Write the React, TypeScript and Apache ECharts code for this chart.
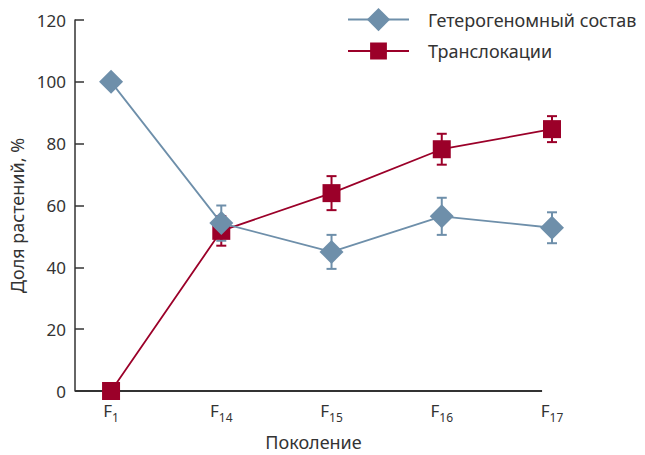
import React, { useEffect, useRef } from 'react';
import * as echarts from 'echarts';

const generations = ['1', '14', '15', '16', '17']; // subscripts of F
const heteroName = 'Гетерогеномный состав';
const translocName = 'Транслокации';
const heteroValues = [100, 54.3, 45, 56.5, 52.8];
const heteroErrors = [0, 5.7, 5.5, 6, 5];
const translocValues = [0, 51.8, 64, 78.2, 84.7];
const translocErrors = [0, 4.8, 5.5, 5, 4.2];
const yMin = 0;
const yMax = 120;
const yStep = 20;

const BLUE = '#6e8faa';
const RED = '#9b0029';
const TEXT = '#333333';
const FONT = 'Noto Sans';

function errorSeries(values: number[], errors: number[], color: string) {
  const data = values
    .map((v, i) => [i, v - errors[i], v + errors[i], errors[i]])
    .filter((d) => d[3] > 0);
  return {
    type: 'custom',
    z: 2,
    silent: true,
    encode: { x: 0, y: [1, 2] },
    data,
    renderItem: (params: any, api: any) => {
      const x = api.value(0);
      const top = api.coord([x, api.value(2)]);
      const bot = api.coord([x, api.value(1)]);
      const hw = 5;
      const style = { stroke: color, lineWidth: 2 };
      return {
        type: 'group',
        children: [
          { type: 'line', shape: { x1: top[0], y1: top[1], x2: bot[0], y2: bot[1] }, style },
          { type: 'line', shape: { x1: top[0] - hw, y1: top[1], x2: top[0] + hw, y2: top[1] }, style },
          { type: 'line', shape: { x1: bot[0] - hw, y1: bot[1], x2: bot[0] + hw, y2: bot[1] }, style },
        ],
      };
    },
  };
}

export default function App() {
  const ref = useRef<HTMLDivElement>(null);
  useEffect(() => {
    if (!ref.current) return;
    const chart = echarts.init(ref.current, undefined, { renderer: 'svg' });
    const xMin = -0.327;
    const xAxisEnd = 3.91;
    chart.setOption({
      animation: false,
      backgroundColor: '#ffffff',
      textStyle: { fontFamily: FONT, color: TEXT },
      grid: { left: 75, top: 20, right: 93, bottom: 64, containLabel: false, outerBoundsMode: 'none' },
      legend: [
        {
          data: [heteroName],
          left: 347,
          top: 8,
          padding: 0,
          itemWidth: 61,
          itemHeight: 29,
          textStyle: { fontSize: 18, color: TEXT, fontFamily: FONT, padding: [0, 0, 0, 14] },
          selectedMode: false,
        },
        {
          data: [translocName],
          left: 347,
          top: 42,
          padding: 0,
          itemWidth: 61,
          itemHeight: 21,
          textStyle: { fontSize: 18, color: TEXT, fontFamily: FONT, padding: [0, 0, 0, 14] },
          selectedMode: false,
        },
      ],
      xAxis: {
        type: 'value',
        min: xMin,
        max: generations.length - 1,
        name: 'Поколение',
        nameLocation: 'middle',
        nameGap: 44,
        nameTextStyle: { fontSize: 18, lineHeight: 14, color: TEXT, fontFamily: FONT },
        axisLine: { show: false },
        axisTick: { show: false },
        splitLine: { show: false },
        axisLabel: {
          customValues: generations.map((_, i) => i),
          margin: 11,
          formatter: (v: number) => {
            const idx = Math.round(v);
            return '{b|F}{s|' + generations[idx] + '}';
          },
          rich: {
            b: { fontSize: 17, lineHeight: 21, verticalAlign: 'top', color: TEXT, fontFamily: FONT },
            s: { fontSize: 12, lineHeight: 11, verticalAlign: 'bottom', color: TEXT, fontFamily: FONT },
          },
        },
      },
      yAxis: {
        type: 'value',
        min: yMin,
        max: yMax,
        interval: yStep,
        name: 'Доля растений, %',
        nameLocation: 'middle',
        nameGap: 45,
        nameTextStyle: { fontSize: 18, color: TEXT, fontFamily: FONT, padding: [0, 20, 0, 0] },
        axisLine: { show: true, onZero: false, lineStyle: { color: TEXT, width: 1.5 } },
        axisTick: { show: true, inside: true, length: 9, lineStyle: { color: TEXT, width: 1.5 } },
        splitLine: { show: false },
        axisLabel: { fontSize: 17, color: TEXT, margin: 9, fontFamily: FONT },
      },
      series: [
        errorSeries(translocValues, translocErrors, RED),
        errorSeries(heteroValues, heteroErrors, BLUE),
        {
          name: translocName,
          type: 'line',
          z: 3,
          data: translocValues.map((v, i) => [i, v]),
          symbol: 'rect',
          symbolSize: 18,
          itemStyle: { color: RED },
          lineStyle: { color: RED, width: 1.8 },
          clip: false,
          markLine: {
            z: 1,
            silent: true,
            symbol: ['none', 'none'],
            label: { show: false },
            lineStyle: { color: TEXT, width: 2, type: 'solid' },
            emphasis: { disabled: true },
            data: [[{ coord: [xMin, yMin] }, { coord: [xAxisEnd, yMin] }]],
          },
        },
        {
          name: heteroName,
          type: 'line',
          z: 4,
          data: heteroValues.map((v, i) => [i, v]),
          symbol: 'diamond',
          symbolSize: 24,
          itemStyle: { color: BLUE },
          lineStyle: { color: BLUE, width: 1.8 },
          clip: false,
        },
      ],
    });
    return () => chart.dispose();
  }, []);
  return (
    <div
      ref={ref}
      style={{ position: 'fixed', left: 0, top: 0, width: 645, height: 455, background: '#fff' }}
    />
  );
}
